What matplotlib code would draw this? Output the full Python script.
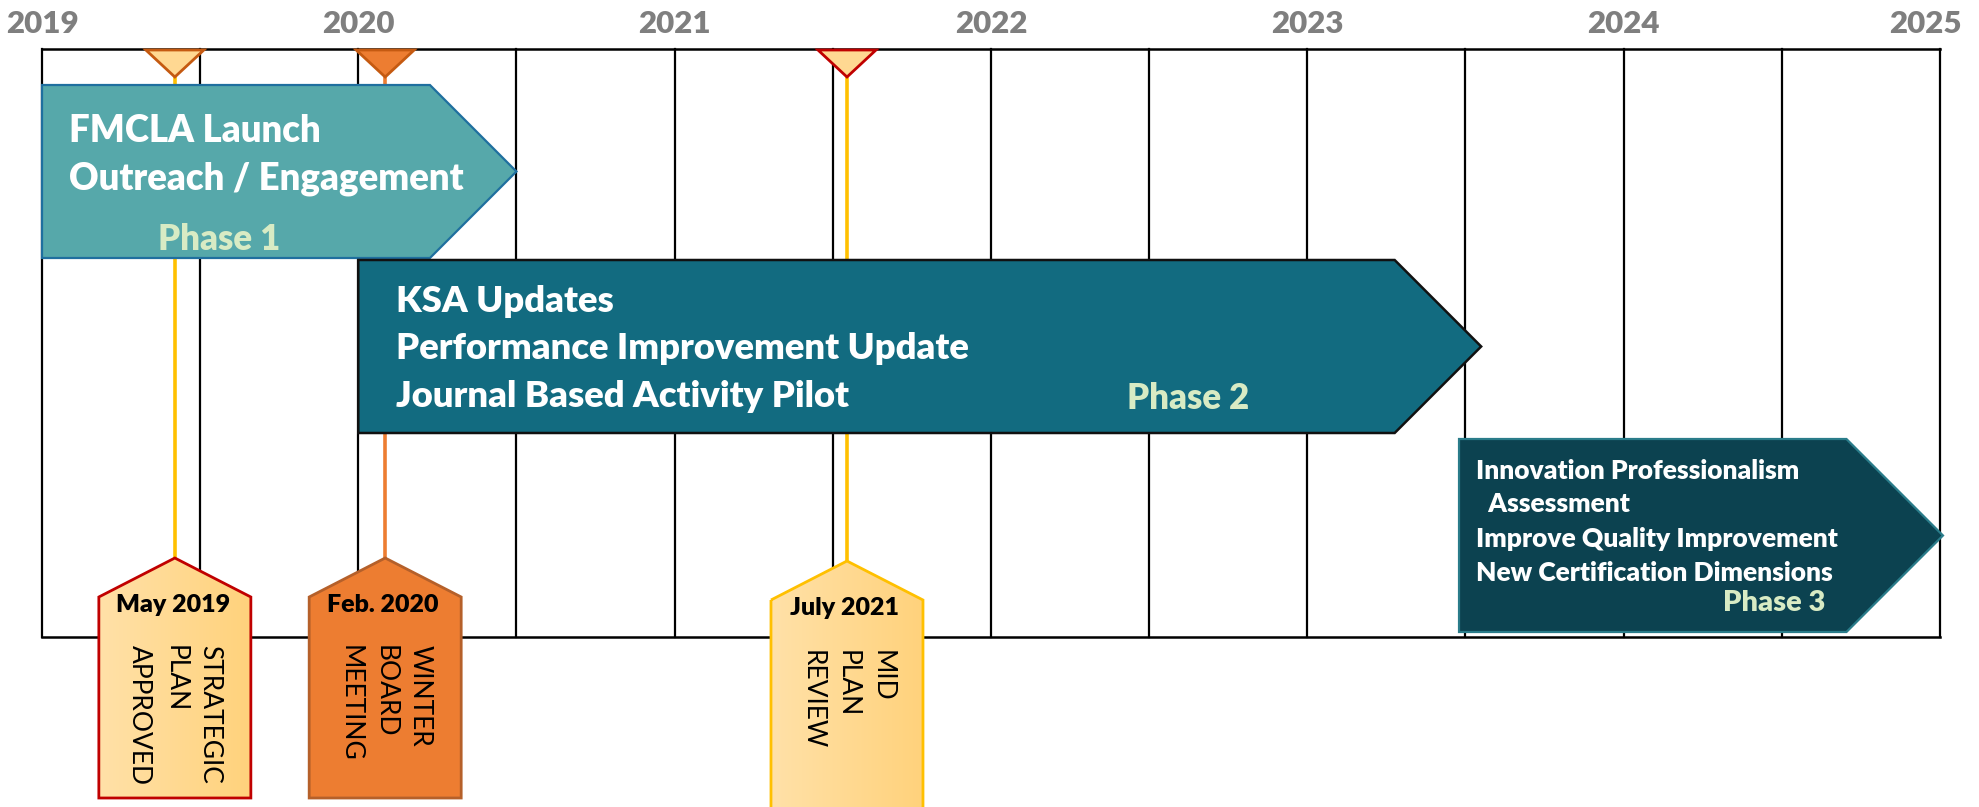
import matplotlib
matplotlib.use("Agg")
import matplotlib.pyplot as plt
from matplotlib.patches import Polygon
from matplotlib.colors import LinearSegmentedColormap
import numpy as np

# ---------------- data ----------------
years = [2019, 2020, 2021, 2022, 2023, 2024, 2025]

phase_labels = ["Phase 1", "Phase 2", "Phase 3"]
phase_start = [2019.0, 2020.0, 2023.48]
phase_end = [2020.5, 2023.55, 2025.01]
phase_items = [
    ["FMCLA Launch", "Outreach / Engagement"],
    ["KSA Updates", "Performance Improvement Update", "Journal Based Activity Pilot"],
    ["Innovation Professionalism", "  Assessment", "Improve Quality Improvement",
     "New Certification Dimensions"],
]

milestone_dates = [2019.42, 2020.085, 2021.545]
milestone_labels = ["May 2019", "Feb. 2020", "July 2021"]
milestone_texts = ["STRATEGIC\nPLAN\nAPPROVED", "WINTER\nBOARD\nMEETING", "MID\nPLAN\nREVIEW"]

# ---------------- layout / style ----------------
W, H, DPI = 1979, 807, 100
PX_PER_YEAR = 316.3
X0_PX = 42
FONT = "Lato"
BOLD = 800

fig = plt.figure(figsize=(W / DPI, H / DPI), dpi=DPI)
ax = fig.add_axes([0, 0, 1, 1])
xlim = (years[0] - X0_PX / PX_PER_YEAR, years[0] + (W - X0_PX) / PX_PER_YEAR)
ax.set_xlim(*xlim)
ax.set_ylim(H, 0)
ax.axis("off")

def px(dx):
    return dx / PX_PER_YEAR

GRID_TOP, GRID_BOT = 49, 637

# grid
for v in np.arange(years[0], years[-1] + 0.01, 0.5):
    ax.plot([v, v], [GRID_TOP, GRID_BOT], color="black", lw=1.6, zorder=1,
            solid_capstyle="projecting")
for yy in (GRID_TOP, GRID_BOT):
    ax.plot([years[0], years[-1]], [yy, yy], color="black", lw=1.8, zorder=1,
            solid_capstyle="projecting")

# year labels
for i, y in enumerate(years):
    dx = -px(14) if i == len(years) - 1 else 0
    ax.text(y + dx, 33, str(y), ha="center", va="baseline", fontsize=22.5,
            fontweight=BOLD, color="#7F7F7F", family=FONT)

# milestones
tri_fill = ["#FFD892", "#ED7D31", "#FFD892"]
tri_edge = ["#C55A11", "#C55A11", "#C00000"]
stem_col = ["#FFC000", "#ED7D31", "#FFC000"]
tag_edge = ["#C00000", "#B5602A", "#FFC000"]
tag_grad = [True, False, True]
tag_dy = [0, 0, 3]
tag_bottom = [798, 798, 840]
grad_cmap = LinearSegmentedColormap.from_list("tag", ["#FFE1A8", "#FFD27C"])

for i, d in enumerate(milestone_dates):
    tri = Polygon([(d - px(29), 50), (d + px(29), 50), (d, 77)], closed=True,
                  facecolor=tri_fill[i], edgecolor=tri_edge[i], lw=2, zorder=3)
    ax.add_patch(tri)
    apex = 558 + tag_dy[i]
    shoulder = 597 + tag_dy[i]
    ax.plot([d, d], [77, apex], color=stem_col[i], lw=2.6, zorder=2)
    hw = px(76)
    verts = [(d - hw, shoulder), (d, apex), (d + hw, shoulder),
             (d + hw, tag_bottom[i]), (d - hw, tag_bottom[i])]
    if tag_grad[i]:
        tag = Polygon(verts, closed=True, facecolor="none", edgecolor=tag_edge[i],
                      lw=2, zorder=6, clip_on=False)
        ax.add_patch(tag)
        bg = Polygon(verts, closed=True, facecolor="none", edgecolor="none",
                     zorder=5)
        ax.add_patch(bg)
        grad = np.linspace(0, 1, 256).reshape(1, -1)
        im = ax.imshow(grad, cmap=grad_cmap, aspect="auto",
                       extent=(d - hw, d + hw, tag_bottom[i], apex), zorder=5)
        im.set_clip_path(bg)
    else:
        tag = Polygon(verts, closed=True, facecolor="#ED7D31", edgecolor=tag_edge[i],
                      lw=2, zorder=5)
        ax.add_patch(tag)
    ax.text(d - px(2), 612 + tag_dy[i], milestone_labels[i], ha="center",
            va="baseline", fontsize=18, fontweight=BOLD, color="black",
            family=FONT, zorder=7)
    ax.text(d, 645 + tag_dy[i] * 1.6, milestone_texts[i], rotation=270,
            ha="center", va="top", multialignment="left", fontsize=19,
            color="black", family=FONT, linespacing=1.5, zorder=7)

# phases
ph_top = [85, 260, 439]
ph_bot = [258, 433, 632]
ph_fill = ["#56A8AA", "#126B80", "#0C4250"]
ph_edge = ["#1F6F9F", "#111111", "#2A7C8A"]
ph_lw = [1.6, 1.8, 1.6]
item_size = [26.3, 26.2, 19]
item_x_px = [[69, 69], [396, 396, 396], [1476, 1476, 1476, 1476]]
item_base = [[142, 190], [312, 359, 407], [479, 512, 547, 581]]
label_pos = [(219, 250, "center", 25), (1188, 409, "center", 25), (1825, 611, "right", 21)]

for i in range(3):
    s, e = phase_start[i], phase_end[i]
    t, b = ph_top[i], ph_bot[i]
    depth = px((b - t) / 2)
    verts = [(s, t), (e - depth, t), (e, (t + b) / 2), (e - depth, b), (s, b)]
    ax.add_patch(Polygon(verts, closed=True, facecolor=ph_fill[i],
                         edgecolor=ph_edge[i], lw=ph_lw[i], zorder=4))
    for j, txt in enumerate(phase_items[i]):
        ax.text(years[0] + px(item_x_px[i][j] - X0_PX), item_base[i][j], txt,
                ha="left", va="baseline", fontsize=item_size[i], fontweight=BOLD,
                color="white", family=FONT, zorder=8)
    lx, lb, ha, fs = label_pos[i]
    ax.text(years[0] + px(lx - X0_PX), lb, phase_labels[i], ha=ha, va="baseline",
            fontsize=fs, fontweight=BOLD, color="#D8EBC4", family=FONT, zorder=8)

ax.set_xlim(*xlim)
ax.set_ylim(H, 0)
fig.savefig("out.png", dpi=DPI)
